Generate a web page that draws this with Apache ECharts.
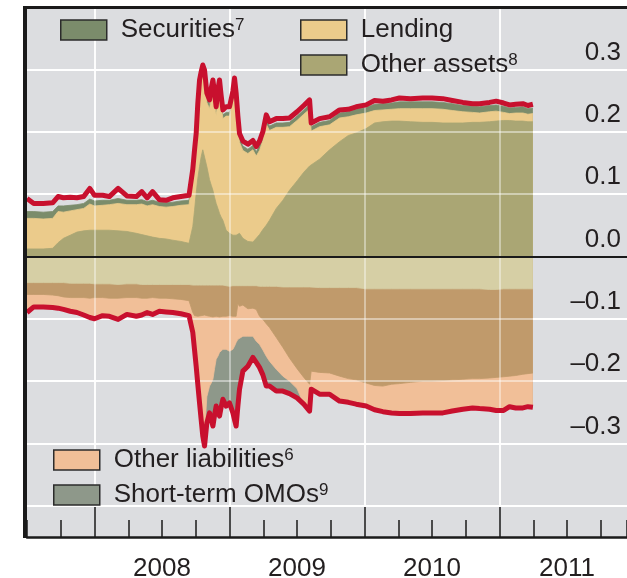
<!DOCTYPE html>
<html><head><meta charset="utf-8">
<script src="https://cdn.jsdelivr.net/npm/echarts@6/dist/echarts.min.js"></script>
<style>html,body{margin:0;padding:0;background:#fff}#c{width:627px;height:578px}</style>
</head><body><div id="c"></div>
<script>
// decimal years of the readings
const years = [2007.50,2007.55,2007.62,2007.69,2007.73,2007.77,2007.82,2007.87,2007.92,2007.965,
 2008.00,2008.06,2008.11,2008.175,2008.24,2008.31,2008.35,2008.39,2008.43,2008.48,
 2008.53,2008.58,2008.64,2008.70,2008.728,2008.741,2008.753,2008.765,2008.778,2008.79,
 2008.802,2008.815,2008.832,2008.852,2008.865,2008.877,2008.889,2008.901,2008.914,2008.926,
 2008.938,2008.951,2008.975,2009.00,2009.025,2009.037,2009.049,2009.062,2009.074,2009.099,
 2009.136,2009.173,2009.198,2009.222,2009.247,2009.272,2009.296,2009.346,2009.395,2009.444,
 2009.50,2009.55,2009.593,2009.605,2009.667,2009.741,2009.815,2009.88,2009.938,2010.012,
 2010.074,2010.136,2010.20,2010.259,2010.34,2010.432,2010.50,2010.58,2010.65,2010.728,
 2010.80,2010.852,2010.926,2010.975,2011.03,2011.074,2011.12,2011.173,2011.21,2011.247];

// assets side (cumulative tops)
const totalAssets = [0.093,0.085,0.085,0.086,0.096,0.094,0.095,0.094,0.096,0.109,
 0.098,0.098,0.096,0.109,0.097,0.096,0.104,0.094,0.104,0.091,
 0.090,0.094,0.096,0.098,0.140,0.171,0.197,0.245,0.283,0.296,
 0.307,0.299,0.262,0.251,0.270,0.283,0.262,0.240,0.268,0.283,
 0.258,0.235,0.240,0.240,0.265,0.286,0.262,0.225,0.197,0.185,
 0.180,0.186,0.176,0.185,0.200,0.227,0.216,0.221,0.221,0.222,
 0.232,0.242,0.251,0.214,0.221,0.224,0.235,0.236,0.240,0.243,
 0.250,0.249,0.251,0.254,0.253,0.254,0.254,0.253,0.250,0.247,
 0.245,0.245,0.247,0.249,0.246,0.243,0.244,0.245,0.242,0.244];
const securitiesTop = [0.072,0.072,0.071,0.072,0.081,0.081,0.082,0.083,0.085,0.092,
 0.089,0.090,0.090,0.093,0.090,0.090,0.091,0.088,0.090,0.087,
 0.086,0.087,0.089,0.090,0.132,0.164,0.190,0.236,0.273,0.286,
 0.296,0.289,0.253,0.243,0.260,0.272,0.253,0.232,0.258,0.272,
 0.249,0.227,0.231,0.231,0.255,0.276,0.253,0.217,0.189,0.177,
 0.172,0.178,0.168,0.177,0.192,0.219,0.209,0.214,0.214,0.215,
 0.225,0.235,0.244,0.208,0.215,0.218,0.230,0.232,0.236,0.239,
 0.244,0.245,0.246,0.248,0.248,0.248,0.248,0.247,0.245,0.242,
 0.241,0.240,0.242,0.243,0.241,0.238,0.239,0.240,0.237,0.238];
const lendingTop = [0.061,0.061,0.060,0.061,0.072,0.071,0.073,0.075,0.077,0.084,
 0.081,0.082,0.083,0.085,0.083,0.083,0.084,0.081,0.083,0.080,
 0.079,0.080,0.082,0.083,0.126,0.158,0.184,0.230,0.267,0.280,
 0.290,0.283,0.247,0.237,0.254,0.266,0.247,0.226,0.252,0.266,
 0.243,0.221,0.225,0.225,0.249,0.270,0.247,0.211,0.183,0.170,
 0.165,0.171,0.161,0.170,0.186,0.212,0.202,0.207,0.207,0.208,
 0.218,0.228,0.236,0.201,0.208,0.211,0.222,0.224,0.227,0.230,
 0.234,0.235,0.236,0.237,0.237,0.237,0.237,0.236,0.234,0.232,
 0.231,0.230,0.232,0.233,0.231,0.229,0.230,0.230,0.228,0.229];
const otherAssetsTop = [0.012,0.012,0.012,0.013,0.022,0.029,0.034,0.039,0.041,0.042,
 0.042,0.042,0.042,0.041,0.040,0.037,0.035,0.033,0.031,0.029,
 0.028,0.026,0.024,0.021,0.048,0.074,0.101,0.125,0.144,0.160,
 0.171,0.169,0.144,0.123,0.114,0.106,0.095,0.085,0.077,0.069,
 0.063,0.058,0.042,0.037,0.034,0.034,0.034,0.036,0.037,0.029,
 0.024,0.023,0.029,0.035,0.043,0.050,0.058,0.077,0.090,0.106,
 0.121,0.135,0.145,0.148,0.156,0.171,0.184,0.194,0.198,0.205,
 0.214,0.216,0.217,0.217,0.216,0.215,0.215,0.214,0.214,0.214,
 0.215,0.215,0.216,0.217,0.218,0.218,0.217,0.217,0.216,0.216];

// liabilities side (cumulative bottoms)
const notesBottom = [-0.042,-0.042,-0.042,-0.042,-0.042,-0.042,-0.043,-0.043,-0.043,-0.043,
 -0.044,-0.044,-0.044,-0.045,-0.044,-0.044,-0.045,-0.045,-0.045,-0.045,
 -0.045,-0.045,-0.045,-0.045,-0.046,-0.046,-0.046,-0.046,-0.046,-0.046,
 -0.046,-0.046,-0.046,-0.046,-0.046,-0.046,-0.046,-0.046,-0.046,-0.046,
 -0.046,-0.046,-0.047,-0.048,-0.047,-0.047,-0.047,-0.047,-0.047,-0.047,
 -0.047,-0.047,-0.047,-0.048,-0.048,-0.048,-0.048,-0.048,-0.049,-0.049,
 -0.049,-0.049,-0.049,-0.049,-0.050,-0.050,-0.050,-0.050,-0.050,-0.052,
 -0.052,-0.052,-0.052,-0.052,-0.052,-0.052,-0.052,-0.052,-0.052,-0.052,
 -0.052,-0.052,-0.053,-0.053,-0.052,-0.052,-0.052,-0.052,-0.052,-0.052];
const reservesBottom = [-0.061,-0.061,-0.061,-0.062,-0.063,-0.065,-0.066,-0.066,-0.066,-0.067,
 -0.066,-0.066,-0.067,-0.067,-0.066,-0.066,-0.067,-0.067,-0.066,-0.067,
 -0.067,-0.068,-0.069,-0.071,-0.090,-0.095,-0.096,-0.096,-0.095,-0.095,
 -0.094,-0.094,-0.095,-0.096,-0.096,-0.097,-0.096,-0.096,-0.097,-0.097,
 -0.096,-0.096,-0.096,-0.095,-0.096,-0.096,-0.096,-0.076,-0.080,-0.078,
 -0.084,-0.083,-0.085,-0.096,-0.101,-0.108,-0.114,-0.130,-0.146,-0.163,
 -0.180,-0.194,-0.205,-0.184,-0.186,-0.187,-0.192,-0.196,-0.198,-0.203,
 -0.207,-0.208,-0.205,-0.204,-0.202,-0.200,-0.200,-0.199,-0.198,-0.197,
 -0.196,-0.196,-0.195,-0.194,-0.193,-0.192,-0.191,-0.189,-0.188,-0.187];
const otherLiabBottom = [-0.090,-0.081,-0.081,-0.082,-0.083,-0.085,-0.088,-0.090,-0.094,-0.098,
 -0.100,-0.095,-0.096,-0.101,-0.093,-0.096,-0.094,-0.090,-0.093,-0.088,
 -0.089,-0.090,-0.092,-0.095,-0.122,-0.150,-0.176,-0.205,-0.235,-0.262,
 -0.280,-0.285,-0.225,-0.208,-0.203,-0.197,-0.180,-0.165,-0.160,-0.154,
 -0.151,-0.149,-0.149,-0.152,-0.149,-0.144,-0.138,-0.133,-0.130,-0.128,
 -0.128,-0.128,-0.136,-0.141,-0.150,-0.160,-0.168,-0.181,-0.192,-0.200,
 -0.212,-0.237,-0.248,-0.213,-0.221,-0.221,-0.232,-0.234,-0.237,-0.240,
 -0.246,-0.249,-0.251,-0.252,-0.252,-0.251,-0.251,-0.251,-0.248,-0.245,
 -0.243,-0.244,-0.245,-0.247,-0.247,-0.241,-0.243,-0.243,-0.241,-0.242];
const totalLiabilities = [-0.090,-0.081,-0.081,-0.082,-0.083,-0.085,-0.088,-0.090,-0.094,-0.098,
 -0.100,-0.095,-0.096,-0.101,-0.093,-0.096,-0.094,-0.090,-0.093,-0.088,
 -0.089,-0.090,-0.092,-0.095,-0.122,-0.150,-0.176,-0.205,-0.235,-0.262,
 -0.288,-0.304,-0.267,-0.251,-0.262,-0.272,-0.255,-0.240,-0.250,-0.256,
 -0.242,-0.229,-0.240,-0.235,-0.251,-0.262,-0.272,-0.240,-0.213,-0.184,
 -0.176,-0.162,-0.170,-0.178,-0.190,-0.208,-0.208,-0.216,-0.216,-0.220,
 -0.227,-0.237,-0.248,-0.213,-0.221,-0.221,-0.232,-0.234,-0.237,-0.240,
 -0.246,-0.249,-0.251,-0.252,-0.252,-0.251,-0.251,-0.251,-0.248,-0.245,
 -0.243,-0.244,-0.245,-0.247,-0.247,-0.241,-0.243,-0.243,-0.241,-0.242];

const yTickValues = [0.3, 0.2, 0.1, 0.0, -0.1, -0.2, -0.3];
const yGridValues = [0.3, 0.2, 0.1, -0.1, -0.2, -0.3, -0.4];
const yearLabels = ['2008', '2009', '2010', '2011'];
const superscripts = {'Securities':'7', 'Other assets':'8', 'Other liabilities':'6', 'Short-term OMOs':'9'};

const FONT = '"Liberation Sans", Arial, Helvetica, sans-serif';
const TXT = '#231f20';
const X_MIN = 2007.5, X_MAX = 2011.944;
const yearStarts = yearLabels.map(Number);
const yearMids = yearStarts.map(y => y + 0.5);

function pts(ys) { return years.map((x, i) => [x, ys[i]]); }
function area(name, ys, color) {
  return {name, type:'line', data: pts(ys), symbol:'none', showSymbol:false, silent:true,
    lineStyle:{width:0.8, color}, itemStyle:{color}, areaStyle:{color, opacity:1}, z:2};
}
function redLine(name, ys) {
  return {name, type:'line', data: pts(ys), symbol:'none', showSymbol:false, silent:true,
    lineStyle:{width:5, color:'#c8102e', join:'round'}, itemStyle:{color:'#c8102e'}, z:4};
}
function gridLines() {
  const d = yGridValues.map(v => ({yAxis: v}));
  yearStarts.forEach(y => d.push([{coord:[y, 0.4]}, {coord:[y, -0.4]}]));
  return d;
}
const legendBase = {
  icon:'rect', itemWidth:46, itemHeight:20, padding:0, selectedMode:false,
  itemStyle:{borderColor:'#2b2b2b', borderWidth:1.5},
  formatter: n => superscripts[n] ? `{n|${n}}{s|${superscripts[n]}}` : `{n|${n}}`,
  textStyle:{color:TXT, fontFamily:FONT, rich:{
    n:{fontSize:26, fontFamily:FONT, color:TXT, padding:[0,0,0,9]},
    s:{fontSize:17, fontFamily:FONT, color:TXT, verticalAlign:'top'}
  }}
};
const fmtY = v => { const s = Math.abs(v).toFixed(1); return v < -1e-9 ? '\u2013' + s : s; };

const option = {
  animation:false,
  backgroundColor:'#ffffff',
  grid:{left:27, right:0, top:7, bottom:41, show:true, backgroundColor:'#dcdde0', borderWidth:0,
        containLabel:false, outerBoundsMode:'none'},
  legend:[
    Object.assign({}, legendBase, {data:['Securities'], left:60, top:17}),
    Object.assign({}, legendBase, {data:['Lending','Other assets'], orient:'vertical', left:300, top:17, itemGap:9}),
    Object.assign({}, legendBase, {data:['Other liabilities','Short-term OMOs'], orient:'vertical', left:53, top:447, itemGap:9})
  ],
  xAxis:[
    {type:'value', min:X_MIN, max:X_MAX, interval:0.25, position:'bottom',
     axisLine:{show:true, onZero:false, lineStyle:{color:'#1a1a1a', width:2.5}},
     axisTick:{show:true, inside:true, length:17, lineStyle:{color:'#1a1a1a', width:1.5}},
     axisLabel:{customValues: yearMids, formatter: v => String(Math.floor(v)), fontSize:26, fontFamily:FONT, color:TXT, margin:19},
     splitLine:{show:false}},
    {type:'value', min:X_MIN, max:X_MAX, position:'bottom',
     axisLine:{show:false, onZero:false},
     axisTick:{show:true, inside:true, length:30, customValues: yearStarts, lineStyle:{color:'#1a1a1a', width:1.5}},
     axisLabel:{show:false}, splitLine:{show:false}}
  ],
  yAxis:{type:'value', min:-0.45, max:0.4, position:'right',
    axisLine:{show:false}, axisTick:{show:false}, splitLine:{show:false},
    axisLabel:{inside:true, customValues: yTickValues, formatter: fmtY, fontSize:26, fontFamily:FONT, color:TXT,
      margin:6, verticalAlign:'bottom', padding:[0,0,4,0]}},
  series:[
    {type:'line', data:[], silent:true, z:1,
     markLine:{silent:true, symbol:'none', z:1, animation:false, label:{show:false},
       lineStyle:{color:'#ffffff', width:1.8, type:'solid', opacity:1}, data: gridLines()}},
    area('Securities', securitiesTop, '#7b8c6b'),
    area('Lending', lendingTop, '#ebcb8b'),
    area('Other assets', otherAssetsTop, '#aaa674'),
    area('Short-term OMOs', totalLiabilities, '#8e988a'),
    area('Other liabilities', otherLiabBottom, '#f1bf98'),
    area('Reserves', reservesBottom, '#c09a6b'),
    area('Banknotes', notesBottom, '#d6cfa5'),
    {type:'line', data:[], silent:true, z:3,
     markLine:{silent:true, symbol:'none', z:3, animation:false, label:{show:false},
       lineStyle:{color:'#ffffff', width:1.8, type:'solid', opacity:0.45}, data: gridLines()}},
    redLine('Total assets', totalAssets),
    redLine('Total liabilities', totalLiabilities),
    {type:'line', data:[], silent:true, z:5,
     markLine:{silent:true, symbol:'none', z:5, animation:false, label:{show:false},
       lineStyle:{color:'#1a1a1a', width:2, type:'solid', opacity:1},
       data:[{yAxis:0},
             [{x:25, y:6}, {x:25, y:538, lineStyle:{width:4}}],
             [{x:23, y:7.5}, {x:627, y:7.5, lineStyle:{width:3}}]]}}
  ]
};
const chart = echarts.init(document.getElementById('c'), null, {renderer:'canvas'});
chart.setOption(option);
</script></body></html>
